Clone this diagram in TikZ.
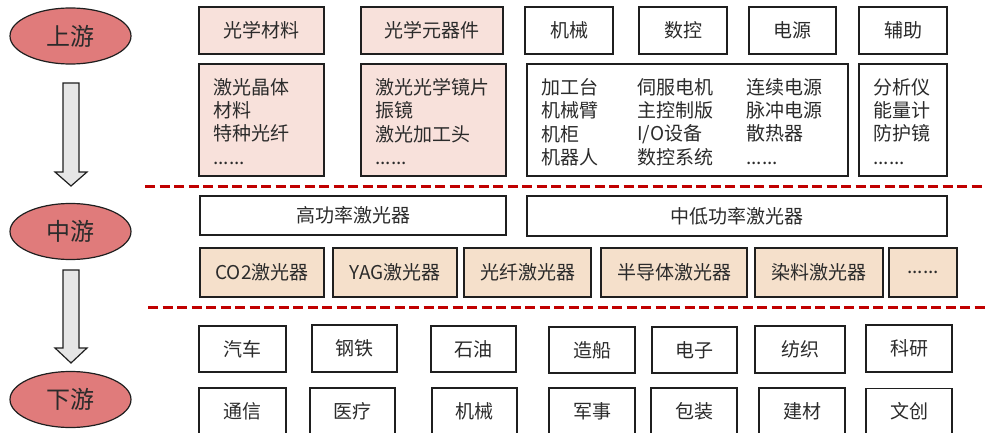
\documentclass[tikz,border=0pt]{standalone}
\usepackage{fontspec}
\setmainfont{Noto Sans CJK SC}
\usetikzlibrary{shapes.geometric}
\definecolor{ellfill}{HTML}{E07B7B}
\definecolor{pinkfill}{HTML}{F8E1DB}
\definecolor{beigefill}{HTML}{F5E0CB}
\definecolor{arrowfill}{HTML}{E6E6E6}
\definecolor{dashred}{HTML}{C00000}
\definecolor{txt}{HTML}{2B2B2B}
\begin{document}
\begin{tikzpicture}[x=1pt,y=-1pt,
  box/.style={draw=black!88, line width=1.5pt, inner sep=0pt, text=txt, font=\fontsize{19}{23}\selectfont},
  pinkbox/.style={box, fill=pinkfill},
  beigebox/.style={box, fill=beigefill},
  whitebox/.style={box, fill=white},
  lst/.style={align=left, inner sep=0pt, text=txt, anchor=north west, font=\fontsize{19}{23.4}\selectfont},
  ell/.style={ellipse, draw=black!88, line width=1.2pt, fill=ellfill, minimum width=121pt, minimum height=56pt, inner sep=0pt, text=txt, font=\fontsize{24}{24}\selectfont},
  blockarrow/.style={draw=black!88, line width=1.2pt, fill=arrowfill, line join=miter},
  sep/.style={draw=dashred, line width=3pt, dash pattern=on 10pt off 4.5pt}
]
\useasboundingbox (0,0) rectangle (985,433);
\clip (0,0) rectangle (985,433);

% stage ellipses
\node[ell] (up) at (70.5,36) {上游};
\node[ell] (mid) at (70.5,231.5) {中游};
\node[ell] (down) at (70.5,399.5) {下游};

% block arrows
\draw[blockarrow] (63,83) -- (79,83) -- (79,172) -- (87,172) -- (71,186) -- (55,172) -- (63,172) -- cycle;
\draw[blockarrow] (63,270) -- (79,270) -- (79,348) -- (87,348) -- (71,363) -- (55,348) -- (63,348) -- cycle;

% separators
\coordinate (s1a) at (145,186);
\coordinate (s1b) at (985,186);
\coordinate (s2a) at (148,307);
\coordinate (s2b) at (985,307);
\draw[sep] (s1a) -- (s1b);
\draw[sep] (s2a) -- (s2b);

% upstream headers
\node[pinkbox, minimum width=125pt, minimum height=47pt] (m1) at (261.5,30.5) {光学材料};
\node[pinkbox, minimum width=142pt, minimum height=47pt] (m2) at (432,30.5) {光学元器件};
\node[whitebox, minimum width=88pt, minimum height=47pt] (m3) at (569,30.5) {机械};
\node[whitebox, minimum width=88pt, minimum height=47pt] (m4) at (683,30.5) {数控};
\node[whitebox, minimum width=87pt, minimum height=47pt] (m5) at (792.5,30.5) {电源};
\node[whitebox, minimum width=88pt, minimum height=47pt] (m6) at (903,30.5) {辅助};

% upstream detail boxes
\node[pinkbox, minimum width=125pt, minimum height=112pt] (d1) at (261.5,120) {};
\node[pinkbox, minimum width=145pt, minimum height=112pt] (d2) at (433.5,120) {};
\node[whitebox, minimum width=321pt, minimum height=112pt] (d3) at (687.5,120) {};
\node[whitebox, minimum width=88pt, minimum height=112pt] (d4) at (903,120) {};

\node[lst] (d1t) at (213,78) {激光晶体\\材料\\特种光纤\\......};
\node[lst] (d2t) at (375,78) {激光光学镜片\\振镜\\激光加工头\\......};
\node[lst] (d3a) at (541,78) {加工台\\机械臂\\机柜\\机器人};
\node[lst] (d3b) at (637,78) {伺服电机\\主控制版\\I/O设备\\数控系统};
\node[lst] (d3c) at (746,78) {连续电源\\脉冲电源\\散热器\\......};
\node[lst] (d4t) at (873,78) {分析仪\\能量计\\防护镜\\......};

% midstream
\node[whitebox, minimum width=306pt, minimum height=39pt] (hp) at (353,215.5) {高功率激光器};
\node[whitebox, minimum width=420pt, minimum height=40pt] (lp) at (737,216) {中低功率激光器};

\node[beigebox, minimum width=124pt, minimum height=49pt] (l1) at (262,272.5) {CO2激光器};
\node[beigebox, minimum width=124pt, minimum height=49pt] (l2) at (395,272.5) {YAG激光器};
\node[beigebox, minimum width=127pt, minimum height=49pt] (l3) at (527.5,272.5) {光纤激光器};
\node[beigebox, minimum width=146pt, minimum height=49pt] (l4) at (674,272.5) {半导体激光器};
\node[beigebox, minimum width=128pt, minimum height=49pt] (l5) at (819,272.5) {染料激光器};
\node[beigebox, minimum width=68pt, minimum height=49pt] (l6) at (923,272.5) {......};

% downstream
\node[whitebox, minimum width=87pt, minimum height=46pt] (a1) at (242.5,349) {汽车};
\node[whitebox, minimum width=85pt, minimum height=47pt] (a2) at (354.5,348.5) {钢铁};
\node[whitebox, minimum width=85pt, minimum height=46pt] (a3) at (473.5,349) {石油};
\node[whitebox, minimum width=86pt, minimum height=46pt] (a4) at (592,350) {造船};
\node[whitebox, minimum width=85pt, minimum height=46pt] (a5) at (694.5,350) {电子};
\node[whitebox, minimum width=90pt, minimum height=47pt] (a6) at (800,349.5) {纺织};
\node[whitebox, minimum width=86pt, minimum height=47pt] (a7) at (909,348.5) {科研};

\node[whitebox, minimum width=87pt, minimum height=46pt] (b1) at (242.5,411) {通信};
\node[whitebox, minimum width=85pt, minimum height=46pt] (b2) at (352.5,411) {医疗};
\node[whitebox, minimum width=85pt, minimum height=46pt] (b3) at (474.5,411) {机械};
\node[whitebox, minimum width=86pt, minimum height=46pt] (b4) at (592,411) {军事};
\node[whitebox, minimum width=86pt, minimum height=46pt] (b5) at (694,411) {包装};
\node[whitebox, minimum width=86pt, minimum height=46pt] (b6) at (802,411) {建材};
\node[whitebox, minimum width=86pt, minimum height=46pt] (b7) at (909,411.5) {文创};
\end{tikzpicture}
\end{document}
